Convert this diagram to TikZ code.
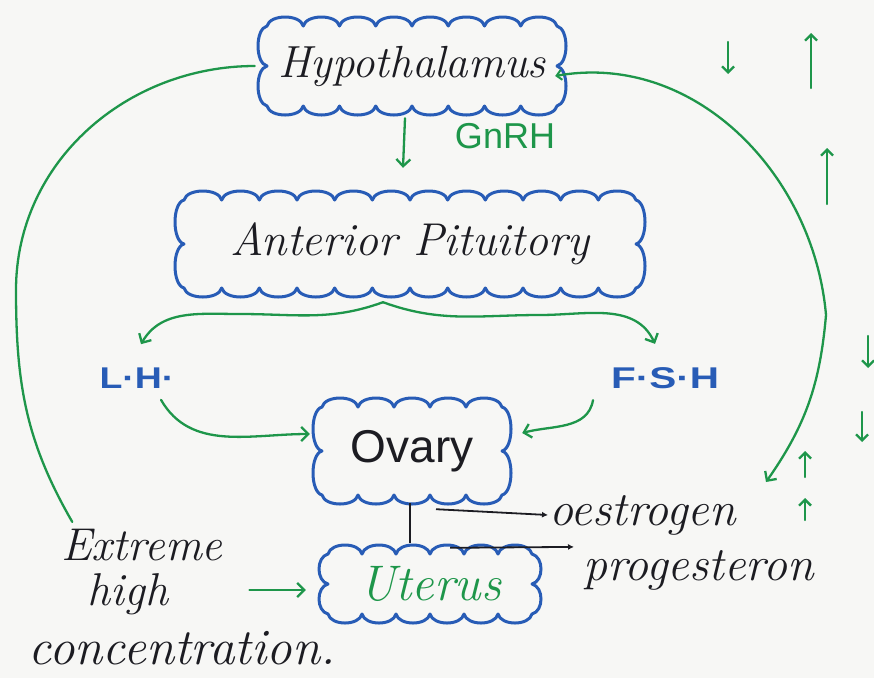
\documentclass[tikz,border=0pt]{standalone}
\usepackage{fontspec}
\newfontfamily\plainsans{Liberation Sans}
\usetikzlibrary{arrows.meta,calc}

\definecolor{inkblue}{RGB}{40,92,182}
\definecolor{inkgreen}{RGB}{30,150,74}
\definecolor{ink}{RGB}{28,28,34}
\definecolor{paper}{RGB}{247,247,245}

\tikzset{
  rim/.style={draw=inkblue, line width=3pt, line join=round, line cap=round},
  organ/.style={inner sep=0pt},
  gline/.style={draw=inkgreen, line width=2.3pt, line cap=round},
  garrow/.style={gline, -{Straight Barb[length=7pt,width=14pt,line width=2.3pt]}},
  gdouble/.style={gline, {Straight Barb[length=5pt,width=10pt,line width=2pt]}-{Straight Barb[length=7pt,width=14pt,line width=2.3pt]}},
  gsmall/.style={gline, -{Straight Barb[length=6pt,width=12pt,line width=2.3pt]}},
  karrow/.style={draw=ink, line width=1.8pt, -{Latex[length=6pt,width=6pt]}},
  kline/.style={draw=ink, line width=2.2pt},
  script/.style={text=ink, inner sep=1pt, font=\fontsize{#1}{#1}\selectfont\itshape},
  hormone/.style={text=inkblue, font=\plainsans\bfseries\fontsize{30}{32}\selectfont},
}

% scalloped outline round a box: centre x, centre y, half width, half height, puffs across, puffs down
\newcommand\puffrim[6]{%
  \pgfmathsetmacro\pL{#1-#3}\pgfmathsetmacro\pR{#1+#3}%
  \pgfmathsetmacro\pT{#2-#4}\pgfmathsetmacro\pB{#2+#4}%
  \pgfmathsetmacro\sx{2*#3/#5}\pgfmathsetmacro\sy{2*#4/#6}%
  \draw[rim] (\pL,\pT)
    \foreach \i [evaluate=\i as \xa using {\pL+(\i-1)*\sx}, evaluate=\i as \xb using {\pL+\i*\sx}] in {1,...,#5}
      { .. controls (\xa+3,\pT-12) and (\xb-3,\pT-12) .. (\xb,\pT) }
    \foreach \i [evaluate=\i as \ya using {\pT+(\i-1)*\sy}, evaluate=\i as \yb using {\pT+\i*\sy}] in {1,...,#6}
      { .. controls (\pR+12,\ya+3) and (\pR+12,\yb-3) .. (\pR,\yb) }
    \foreach \i [evaluate=\i as \xa using {\pR-(\i-1)*\sx}, evaluate=\i as \xb using {\pR-\i*\sx}] in {1,...,#5}
      { .. controls (\xa-3,\pB+12) and (\xb+3,\pB+12) .. (\xb,\pB) }
    \foreach \i [evaluate=\i as \ya using {\pB-(\i-1)*\sy}, evaluate=\i as \yb using {\pB-\i*\sy}] in {1,...,#6}
      { .. controls (\pL-12,\ya-3) and (\pL-12,\yb+3) .. (\pL,\yb) }
    -- cycle;}

\begin{document}
\begin{tikzpicture}[x=1pt, y=-1pt]
  \useasboundingbox[fill=paper] (0,0) rectangle (874,678);

  % glands and organs
  \node[organ, minimum width=290pt, minimum height=80pt, script=45] (hyp) at (412,66) {Hypothalamus};
  \puffrim{412}{66}{145}{40}{8}{2}
  \node[organ, minimum width=452pt, minimum height=88pt, script=46] (ap) at (410,244) {Anterior Pituitory};
  \puffrim{410}{244}{226}{44}{12}{2}
  \node[organ, minimum width=180pt, minimum height=88pt, text=ink,
        font=\plainsans\fontsize{46}{50}\selectfont] (ovary) at (412,451) {Ovary};
  \puffrim{412}{451}{90}{44}{5}{2}
  \node[organ, minimum width=204pt, minimum height=60pt, script=50, text=inkgreen] (uterus) at (430,584) {Uterus};
  \puffrim{430}{584}{102}{30}{6}{2}

  % hormone labels
  \node[text=inkgreen, font=\plainsans\fontsize{36}{40}\selectfont] (gnrh) at (505,136) {GnRH};
  \node[hormone] (lh) at (137,378) {\scalebox{1.25}[1]{L·H·}};
  \node[hormone] (fsh) at (665,378) {\scalebox{1.35}[1]{F·S·H}};
  \node[script=48, anchor=west] (oes) at (548,515) {oestrogen};
  \node[script=48, anchor=west] (prog) at (582,570) {progesteron};
  \node[script=46] (ext1) at (142,545) {Extreme};
  \node[script=46] (ext2) at (128,594) {high};
  \node[script=51] (ext3) at (182,648) {concentration.};

  % hypothalamus -> anterior pituitory
  \draw[garrow] ($(hyp.south)+(-7,12)$) -- ($(ap.north)+(-7,-32)$);

  % anterior pituitory splits into LH and FSH
  \coordinate (peak) at ($(ap.south)+(-27,14)$);
  \draw[garrow] (peak) to[out=200,in=0] (240,314) to[out=180,in=60] ($(lh.north)+(4,-20)$);
  \draw[garrow] (peak) to[out=-20,in=180] (540,315) to[out=0,in=115] ($(fsh.north)+(-10,-20)$);

  % LH and FSH act on the ovary
  \draw[garrow] ($(lh.south)+(24,8)$) to[out=-60,in=180] ($(ovary.west)+(-12,-17)$);
  \draw[garrow] ($(fsh.south)+(-72,8)$) to[out=-100,in=15] ($(ovary.east)+(20,-18)$);

  % ovary -> uterus, with its hormones
  \draw[kline] ($(ovary.south)+(-2,8)$) -- ($(ovary.south)+(-2,48)$);
  \draw[karrow] ($(ovary.south)+(24,14)$) -- (oes.west);
  \draw[karrow] ($(uterus.north)+(20,-6)$) -- ($(prog.north west)+(-8,-2)$);

  % feedback loops
  \draw[gline] ($(ext1.north west)+(12,-6)$) to[out=120,in=-90] (16,290) to[out=90,in=180] ($(hyp.west)+(-12,0)$);
  \coordinate (fbtip) at (766,482);
  \draw[gdouble] ($(hyp.east)+(-2,10)$) to[out=10,in=95] (826,315) to[out=-95,in=55] (fbtip);

  % extreme high concentration acts on the uterus
  \draw[garrow] ($(ext2.east)+(80,-4)$) -- ($(uterus.west)+(-22,6)$);

  % rise and fall marks
  \foreach \x/\ya/\yb in {728/42/74, 868/336/368, 862/412/442}
    \draw[gsmall] (\x,\ya) -- (\x,\yb);
  \foreach \x/\ya/\yb in {811/88/33, 827/204/148, 805/477/451, 805/520/498}
    \draw[gsmall] (\x,\ya) -- (\x,\yb);
\end{tikzpicture}
\end{document}
